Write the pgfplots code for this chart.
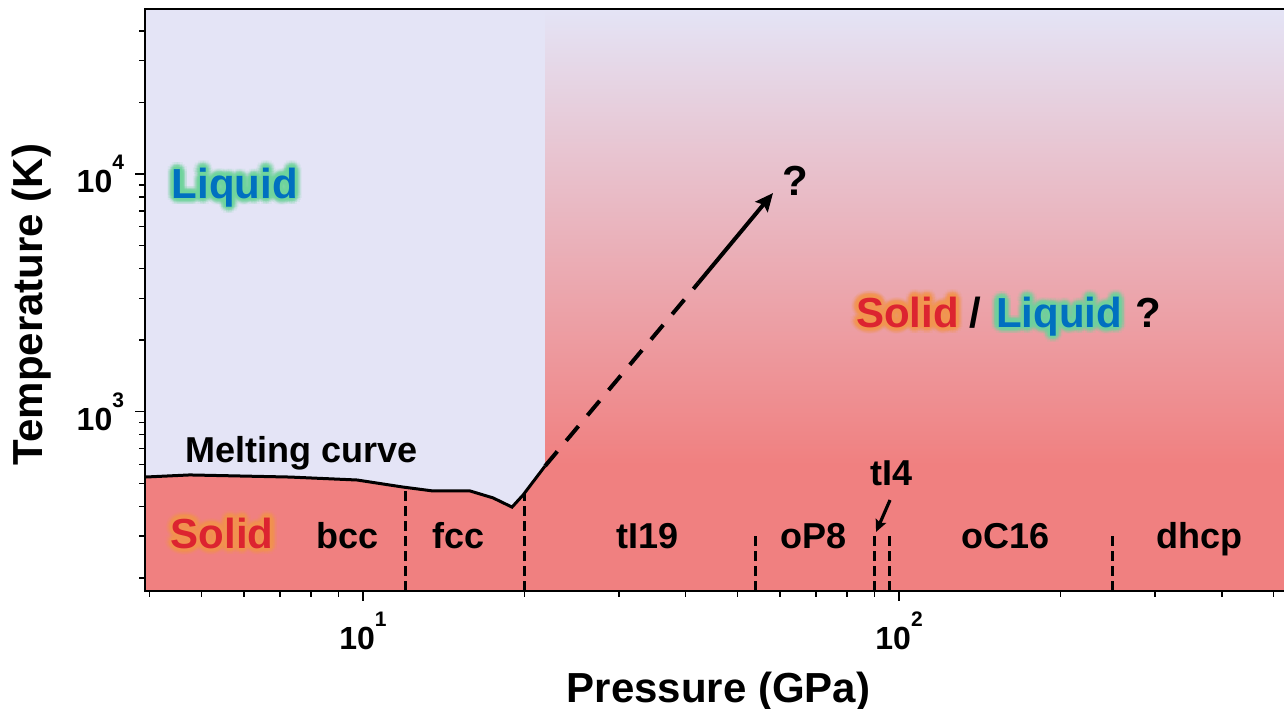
\documentclass[border=0pt]{standalone}
\usepackage{fontspec}
\setmainfont{Liberation Sans}
\usepackage{pgfplots}
\pgfplotsset{compat=1.18}
\usetikzlibrary{arrows.meta,calc}

\definecolor{lav}{HTML}{E4E4F6}
\definecolor{salmon}{HTML}{F08080}
\definecolor{solidred}{HTML}{DC2430}
\definecolor{liqblue}{HTML}{0070C0}
\definecolor{glowgreen}{HTML}{6FD49C}
\definecolor{gloworange}{HTML}{F5954F}

\newcommand{\bigf}{\bfseries\fontsize{21bp}{24bp}\selectfont}
\newcommand{\medf}{\bfseries\fontsize{18bp}{21bp}\selectfont}
\newcommand{\tickf}{\bfseries\fontsize{16bp}{18bp}\selectfont}
\newcommand{\supf}{\fontsize{10.5bp}{12bp}\selectfont}

% glowing text: #1 coordinate name, #2 text colour, #3 glow colour, #4 text
\newcommand{\glowtext}[4]{%
  \foreach \r/\o in {3.4bp/0.11, 2.5bp/0.16, 1.7bp/0.22, 0.8bp/0.32} {
    \foreach \a in {0,22.5,...,337.5} {
      \node[text=#3, opacity=\o, font=\bigf, inner sep=0pt, anchor=base] at ($(#1)+(\a:\r)$) {#4};
    }
  }
  \node[text=#2, font=\bigf, inner sep=0pt, anchor=base] at (#1) {#4};
}

\begin{document}
\begin{tikzpicture}
\begin{axis}[
  at={(0,0)}, anchor=south west,
  scale only axis,
  width=577.5bp, height=291bp,
  xmode=log, ymode=log,
  xmin=3.921, xmax=559.8,
  ymin=176.1, ymax=49460,
  axis on top,
  clip mode=individual,
  axis line style={line width=1bp},
  tick align=outside,
  tick pos=left,
  major tick length=5bp, minor tick length=3bp,
  every tick/.style={black, line width=0.75bp},
  xtick={10,100},
  xticklabels={10\raisebox{0.72em}{\supf 1}, 10\raisebox{0.72em}{\supf 2}},
  ytick={1000,10000},
  yticklabels={10\raisebox{0.72em}{\supf 3}, 10\raisebox{0.72em}{\supf 4}},
  minor xtick={4,5,6,7,8,9,20,30,40,50,60,70,80,90,200,300,400,500},
  minor ytick={200,300,400,500,600,700,800,900,2000,3000,4000,5000,6000,7000,8000,9000,20000,30000,40000},
  ticklabel style={font=\tickf},
  xticklabel style={yshift=-2bp},
  yticklabel style={xshift=-2bp},
]
% background: liquid region (left)
\addplot[draw=none, fill=lav] coordinates {(3.921,49460) (21.86,49460)} \closedcycle;
% solid region below melting curve (left)
\addplot[draw=none, fill=salmon] coordinates {
  (3.921,531) (4.75,542) (7.31,531) (9.75,516) (11.87,482) (13.51,464)
  (15.84,464) (17.48,434) (18.97,397) (19.89,446) (21.86,591)} \closedcycle;
% right region: gradient solid/liquid
\addplot[draw=none, top color=lav, bottom color=salmon] coordinates {
  (21.86,49460) (559.8,49460) (559.8,600) (21.86,600)} -- cycle;
\addplot[draw=none, fill=salmon] coordinates {(21.86,610) (559.8,610)} \closedcycle;

% melting curve
\addplot[black, line width=1.5bp] coordinates {
  (3.921,531) (4.75,542) (7.31,531) (9.75,516) (11.87,482) (13.51,464)
  (15.84,464) (17.48,434) (18.97,397) (19.89,446) (21.86,591)};
% extrapolation (dashed) and arrow
\addplot[black, line width=2bp, dash pattern=on 9.5bp off 7bp] coordinates {
  (21.86,591) (42.2,3475)};
\addplot[black, line width=2bp, -{Stealth[length=9bp,width=8bp,inset=1.5bp]}] coordinates {
  (42.2,3475) (58.2,8318)};

% phase boundaries
\addplot[black, line width=1.6bp, dash pattern=on 5bp off 2.5bp] coordinates {(12,176.1) (12,483)};
\addplot[black, line width=1.6bp, dash pattern=on 5bp off 2.5bp] coordinates {(20,176.1) (20,452)};
\addplot[black, line width=1.6bp, dash pattern=on 5bp off 2.5bp] coordinates {(54,176.1) (54,310)};
\addplot[black, line width=1.6bp, dash pattern=on 5bp off 2.5bp] coordinates {(90,176.1) (90,310)};
\addplot[black, line width=1.6bp, dash pattern=on 5bp off 2.5bp] coordinates {(96,176.1) (96,310)};
\addplot[black, line width=1.6bp, dash pattern=on 5bp off 2.5bp] coordinates {(250,176.1) (250,310)};
% tI4 pointer
\addplot[black, line width=1.6bp, -{Stealth[length=6bp,width=5.5bp,inset=1bp]}] coordinates {(96.2,425) (90.6,312)};

% labels
\node[font=\medf, anchor=base, inner sep=0pt] at (axis cs:7.69,614) {Melting curve};
\node[font=\medf, anchor=base, inner sep=0pt] at (axis cs:9.36,267) {bcc};
\node[font=\medf, anchor=base, inner sep=0pt] at (axis cs:15.1,267) {fcc};
\node[font=\medf, anchor=base, inner sep=0pt] at (axis cs:33.9,267) {tI19};
\node[font=\medf, anchor=base, inner sep=0pt] at (axis cs:69.3,267) {oP8};
\node[font=\medf, anchor=base, inner sep=0pt] at (axis cs:158,267) {oC16};
\node[font=\medf, anchor=base, inner sep=0pt] at (axis cs:364,267) {dhcp};
\node[font=\medf, anchor=base, inner sep=0pt] at (axis cs:97.0,491.6) {tI4};
\node[font=\bigf, anchor=base, inner sep=0pt] at (axis cs:64.0,8160) {?};
\node[font=\bigf, anchor=base, inner sep=0pt] at (axis cs:138.6,2271) {/};
\node[font=\bigf, anchor=base, inner sep=0pt] at (axis cs:291.4,2271) {?};

\coordinate (liqL) at (axis cs:5.77,7925);
\coordinate (solL) at (axis cs:5.46,267);
\coordinate (solR) at (axis cs:103.7,2271);
\coordinate (liqR) at (axis cs:198.9,2271);
\end{axis}

\glowtext{liqL}{liqblue}{glowgreen}{Liquid}
\glowtext{solL}{solidred}{gloworange}{Solid}
\glowtext{solR}{solidred}{gloworange}{Solid}
\glowtext{liqR}{liqblue}{glowgreen}{Liquid}

\node[font=\bigf, anchor=base, inner sep=0pt] at (286.75bp,-55.5bp) {Pressure (GPa)};
\node[font=\bigf, anchor=base, inner sep=0pt, rotate=90] at (-51bp,143.25bp) {Temperature (K)};

\pgfresetboundingbox
\path (-72.5bp,-59bp) rectangle (569.5bp,295.5bp);
\end{tikzpicture}
\end{document}
